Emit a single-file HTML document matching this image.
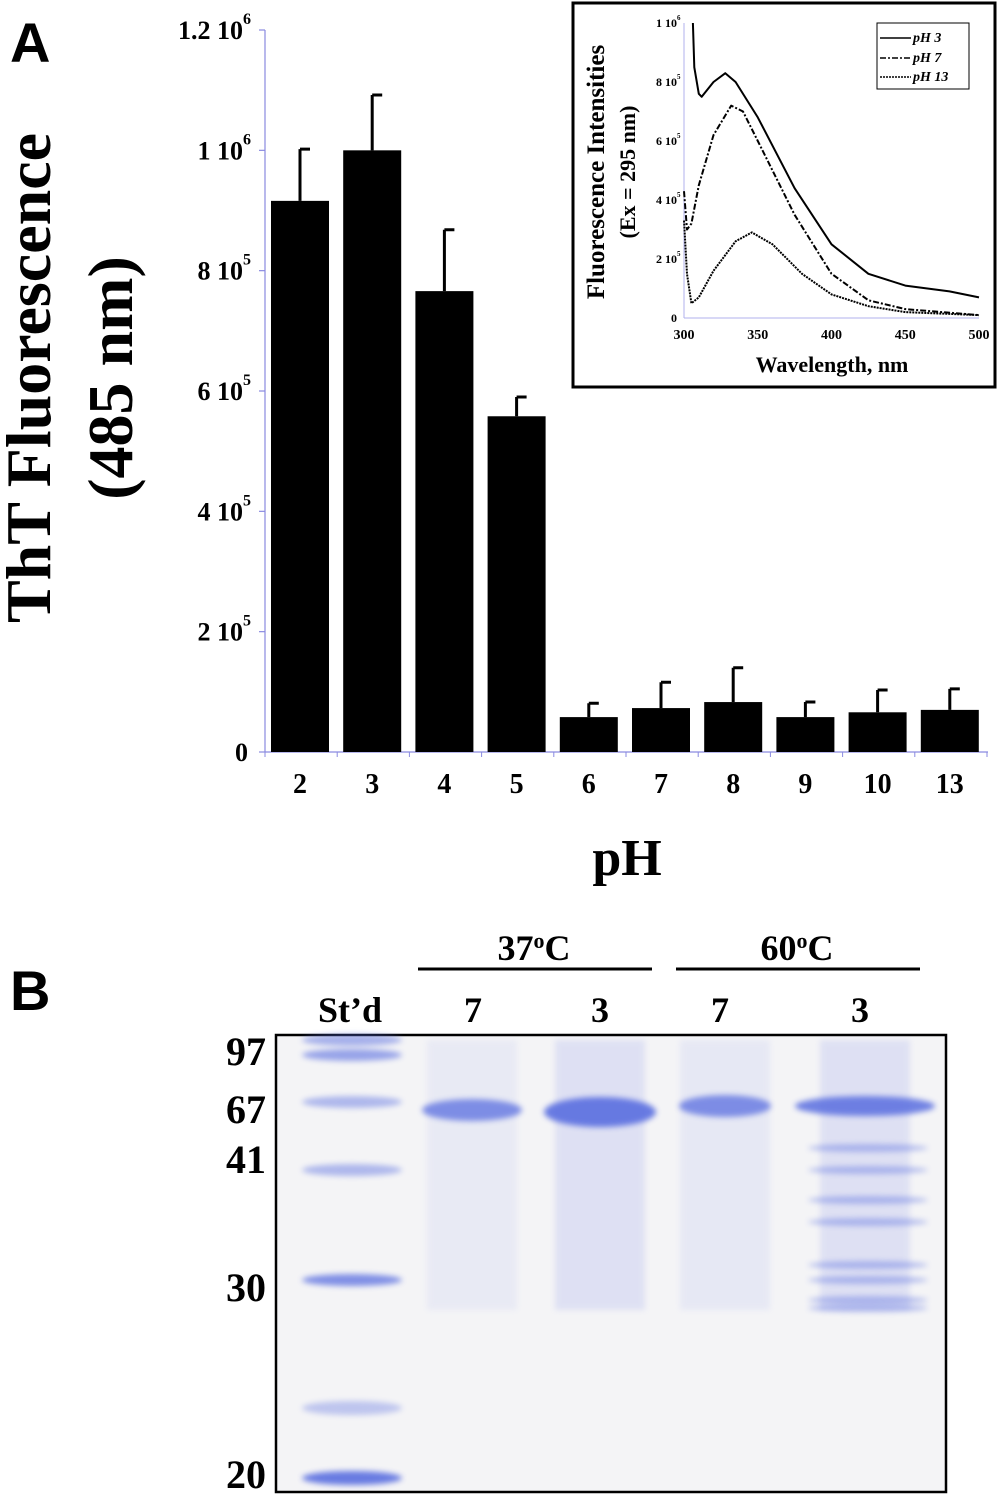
<!DOCTYPE html>
<html><head><meta charset="utf-8"><style>
body{margin:0;background:#fff;width:1000px;height:1505px;overflow:hidden;font-family:"Liberation Serif",serif}
svg text{font-family:"Liberation Serif",serif;font-weight:bold}
</style></head><body>
<svg id="fig" width="1000" height="1505" viewBox="0 0 1000 1505" xmlns="http://www.w3.org/2000/svg">
<defs>
<filter id="blur" x="-20%" y="-100%" width="140%" height="300%"><feGaussianBlur stdDeviation="3"/></filter>
</defs>
<text x="10" y="62" style="font-family:'Liberation Sans',sans-serif;font-weight:bold" font-size="56">A</text>
<text x="10" y="1010" style="font-family:'Liberation Sans',sans-serif;font-weight:bold" font-size="56">B</text>
<g id="main"></g>
<g id="inset"></g>
<g id="gel"></g>
</svg>
<script>
const categories=["2","3","4","5","6","7","8","9","10","13"];
const values=[916000,1000000,766000,558000,58000,73000,83000,58000,66000,70000];
const errors=[86000,92000,102000,32000,23000,43000,57000,25000,37000,35000];
const yTicks=[0,200000,400000,600000,800000,1000000,1200000];
const yTickLabels=["0","2 10","4 10","6 10","8 10","1 10","1.2 10"];
const yTickExp=["","5","5","5","5","6","6"];

const wl3=[306,307,310,312,320,328,335,350,375,400,425,450,465,480,500];
const ph3=[1.0,0.85,0.76,0.75,0.80,0.83,0.80,0.68,0.44,0.25,0.15,0.11,0.10,0.09,0.07];
const wl7=[300,302,305,310,320,332,340,350,375,400,425,450,475,500];
const ph7=[0.43,0.30,0.32,0.45,0.62,0.72,0.70,0.60,0.35,0.15,0.06,0.03,0.02,0.01];
const wl13=[300,302,305,310,320,335,346,360,380,400,425,450,500];
const ph13=[0.33,0.15,0.05,0.07,0.16,0.26,0.29,0.25,0.15,0.08,0.04,0.02,0.01];
const insetYTicks=[0,0.2,0.4,0.6,0.8,1.0];
const insetYLabels=["0","2 10","4 10","6 10","8 10","1 10"];
const insetYExp=["","5","5","5","5","6"];
const insetXTicks=[300,350,400,450,500];

const gelMarkers=["97","67","41","30","20"];
const NS="http://www.w3.org/2000/svg";
function mk(parent,tag,attrs,txt){const e=document.createElementNS(NS,tag);for(const k in attrs)e.setAttribute(k,attrs[k]);if(txt!==undefined)e.textContent=txt;parent.appendChild(e);return e;}

// Main chart
const main=document.getElementById('main');
const X0=265,X1=988,Y0=752,Ytop=30;
const yScale=v=>Y0-(v/1200000)*(Y0-Ytop);
const step=72.2, xC=i=>300+i*step;
let ax=mk(main,'line',{x1:X0,y1:Ytop,x2:X0,y2:Y0,stroke:'#8a8ae0','stroke-width':1.2});

ax=mk(main,'line',{x1:X0,y1:Y0,x2:X1,y2:Y0,stroke:'#8a8ae0','stroke-width':1.2});

yTicks.forEach((t,i)=>{
  const y=yScale(t);
  mk(main,'line',{x1:X0-6,y1:y,x2:X0,y2:y,stroke:'#8a8ae0','stroke-width':1.2});
  const tx=mk(main,'text',{x:yTickExp[i]?243:248,y:y+9,'text-anchor':'end','font-size':26});
  
  tx.textContent=yTickLabels[i];
  if(yTickExp[i]){mk(main,'text',{x:243,y:y-6,'font-size':16},yTickExp[i]);}
});
for(let i=0;i<=categories.length;i++){const x=X0+i*step;mk(main,'line',{x1:x,y1:Y0,x2:x,y2:Y0+5,stroke:'#8a8ae0','stroke-width':1});}
categories.forEach((c,i)=>{
  const x=xC(i),top=yScale(values[i]),et=yScale(values[i]+errors[i]);
  const eb=mk(main,'path',{d:`M${x} ${top} V${et} M${x} ${et} H${x+10}`,stroke:'#000','stroke-width':3,fill:'none'});
  
  const r=mk(main,'rect',{x:x-29,y:top,width:58,height:Y0-top,fill:'#000'});
  
  const t=mk(main,'text',{x:x,y:793,'text-anchor':'middle','font-size':28},c);
  
});
let tt=mk(main,'text',{x:627,y:875,'text-anchor':'middle','font-size':52},'pH');

tt=mk(main,'text',{transform:'translate(50,378) rotate(-90)','text-anchor':'middle','font-size':64},'ThT Fluorescence');

tt=mk(main,'text',{transform:'translate(132,378) rotate(-90)','text-anchor':'middle','font-size':64},'(485 nm)');


// Inset
const ins=document.getElementById('inset');
let box=mk(ins,'rect',{x:573,y:3,width:422,height:384,fill:'#fff',stroke:'#000','stroke-width':3});

const IX0=684,IX1=979,IY0=318,IY1=23;
const ix=w=>IX0+(w-300)/200*(IX1-IX0), iy=v=>IY0-v*(IY0-IY1);
mk(ins,'line',{x1:IX0,y1:IY1,x2:IX0,y2:IY0,stroke:'#b0b0ee','stroke-width':1});
mk(ins,'line',{x1:IX0,y1:IY0,x2:IX1,y2:IY0,stroke:'#b0b0ee','stroke-width':1});
insetYTicks.forEach((t,i)=>{
  const l=mk(ins,'text',{x:677,y:iy(t)+4,'text-anchor':'end','font-size':12},insetYLabels[i]);
  
  if(insetYExp[i])mk(ins,'text',{x:677,y:iy(t)-3,'font-size':7},insetYExp[i]);
});
insetXTicks.forEach(t=>{
  const l=mk(ins,'text',{x:ix(t),y:339,'text-anchor':'middle','font-size':14},String(t));
  
});
tt=mk(ins,'text',{x:832,y:372,'text-anchor':'middle','font-size':22},'Wavelength, nm');

tt=mk(ins,'text',{transform:'translate(604,172) rotate(-90)','text-anchor':'middle','font-size':25},'Fluorescence Intensities');

tt=mk(ins,'text',{transform:'translate(635,172) rotate(-90)','text-anchor':'middle','font-size':22},'(Ex = 295 nm)');

function line(ws,vs,dash,name){
  const d=ws.map((w,i)=>(i?'L':'M')+ix(w).toFixed(1)+' '+iy(vs[i]).toFixed(1)).join(' ');
  const p=mk(ins,'path',{d:d,fill:'none',stroke:'#000','stroke-width':2,'stroke-dasharray':dash,'stroke-linejoin':'round'});
  
}
line(wl3,ph3,'none','line-ph3');
line(wl7,ph7,'6 2 2 2','line-ph7');
line(wl13,ph13,'2 1','line-ph13');
const lg=mk(ins,'g',{});

mk(lg,'rect',{x:877,y:23,width:92,height:66,fill:'#fff',stroke:'#000','stroke-width':1});
[['pH 3','none',38],['pH 7','6 2 2 2',58],['pH 13','2 1',77]].forEach(e=>{
  mk(lg,'line',{x1:880,y1:e[2],x2:911,y2:e[2],stroke:'#000','stroke-width':1.5,'stroke-dasharray':e[1]});
  const t=mk(lg,'text',{x:913,y:e[2]+4,'font-size':14,'font-style':'italic'},e[0]);
  
});

// Gel
const gel=document.getElementById('gel');
const hdr=[['37',534,418,652],['60',797,676,920]];
hdr.forEach(h=>{
  const t=mk(gel,'text',{x:h[1],y:960,'text-anchor':'middle','font-size':36});
  
  mk(t,'tspan',{},h[0]);mk(t,'tspan',{'font-size':22,dy:-12},'o');mk(t,'tspan',{dy:12},'C');
  mk(gel,'line',{x1:h[2],y1:969,x2:h[3],y2:969,stroke:'#000','stroke-width':3});
});
const lanes=[['St’d',350],['7',473],['3',600],['7',720],['3',860]];
lanes.forEach(l=>{const t=mk(gel,'text',{x:l[1],y:1022,'text-anchor':'middle','font-size':36},l[0]);
  });
mk(gel,'rect',{x:276,y:1035,width:670,height:457,fill:'#f4f4f6',stroke:'#000','stroke-width':2.5});
const markerY=[1052,1110,1160,1288,1475];
gelMarkers.forEach((m,i)=>{const t=mk(gel,'text',{x:266,y:markerY[i]+13,'text-anchor':'end','font-size':40},m);
  });
function band(cx,y,w,h,op){const e=mk(gel,'ellipse',{cx:cx,cy:y,rx:w/2,ry:h/2,fill:'#5a6ee0',opacity:op,filter:'url(#blur)'});
  }
[[1040,0.5],[1055,0.6],[1102,0.45],[1170,0.45],[1280,0.75],[1408,0.35],[1478,0.9]].forEach(b=>band(352,b[0],100,b[0]>1400?14:12,b[1]));
[[472,0.1],[600,0.2],[725,0.12],[865,0.2]].forEach(s=>{const r=mk(gel,'rect',{x:s[0]-45,y:1040,width:90,height:270,fill:'#8a96e8',opacity:s[1],filter:'url(#blur)'});});
band(472,1110,100,22,0.75);band(600,1112,112,30,0.9);band(725,1106,92,22,0.75);band(865,1106,140,20,0.85);
[1148,1170,1200,1222,1265,1280,1300,1308].forEach(y=>band(868,y,120,8,0.4));
</script>
</body></html>
